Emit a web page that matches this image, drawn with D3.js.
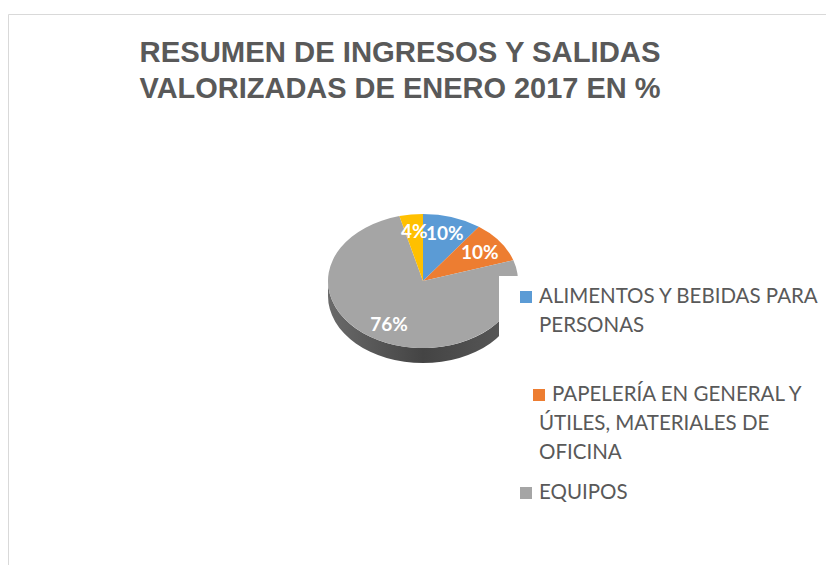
<!DOCTYPE html>
<html>
<head>
<meta charset="utf-8">
<script src="https://cdn.jsdelivr.net/npm/d3@7"></script>
<style>
  body { margin: 0; background: #fff; }
</style>
</head>
<body>
<div id="chart"></div>
<script>
// data
const categories = ["ALIMENTOS Y BEBIDAS PARA PERSONAS", "PAPELERÍA EN GENERAL Y ÚTILES, MATERIALES DE OFICINA", "EQUIPOS", "OTROS"];
const values = [10, 10, 76, 4];
const pctLabels = ["10%", "10%", "76%", "4%"];
const legendLines = [["ALIMENTOS Y BEBIDAS PARA", "PERSONAS"], ["PAPELERÍA EN GENERAL Y", "ÚTILES, MATERIALES DE", "OFICINA"], ["EQUIPOS"]];
const titleLines = ["RESUMEN DE INGRESOS Y SALIDAS", "VALORIZADAS DE ENERO 2017 EN %"];

const width = 826, height = 565;

const svg = d3.select("#chart")
  .append("svg")
    .attr("width", width)
    .attr("height", height);

const color = d3.scaleOrdinal()
  .domain(categories)
  .range(["#5b9bd5", "#ed7d31", "#a5a5a5", "#ffc000"]);

// chart area border
svg.append("path")
  .attr("d", `M8.5,${height} V14.5 H${width}`)
  .style("fill", "none")
  .style("stroke", "#d9d9d9");

/* Title */
svg.selectAll("text.title")
  .data(titleLines)
  .join("text")
    .attr("class", "title")
    .attr("x", 400)
    .attr("y", (d, i) => 62 + i * 36)
    .attr("text-anchor", "middle")
    .attr("textLength", 521)
    .attr("lengthAdjust", "spacingAndGlyphs")
    .style("font-family", "'Liberation Sans', Arial, sans-serif")
    .style("font-weight", "bold")
    .style("font-size", "30px")
    .style("fill", "#595959")
    .text(d => d);

/* Tilted pie */
const cx = 423, cy = 281, rx = 95, ry = 67, depth = 15;

const pie = d3.pie().sort(null).value(d => d.value);
const arcs = pie(categories.map((c, i) => ({name: c, value: values[i], label: pctLabels[i]})));

const arc = d3.arc().innerRadius(0).outerRadius(rx);
const labelArc = d3.arc().innerRadius(rx * 0.74).outerRadius(rx * 0.74);

const pt = (a, dy = 0) => [cx + rx * Math.sin(a), cy - ry * Math.cos(a) + dy];

const defs = svg.append("defs");
const grad = defs.append("linearGradient")
  .attr("id", "side")
  .attr("x1", "0").attr("x2", "1").attr("y1", "0").attr("y2", "0");
grad.append("stop").attr("offset", "0").attr("stop-color", "#6a6a6a");
grad.append("stop").attr("offset", "0.5").attr("stop-color", "#444");
grad.append("stop").attr("offset", "1").attr("stop-color", "#5a5a5a");

// side wall, only the front half shows
const sidePath = d => {
  const s = Math.max(d.startAngle, Math.PI / 2);
  const e = Math.min(d.endAngle, Math.PI * 1.5);
  if (s >= e) return null;
  const p0 = pt(s), p1 = pt(e), p2 = pt(e, depth), p3 = pt(s, depth);
  return `M${p0}A${rx},${ry} 0 0 1 ${p1}L${p2}A${rx},${ry} 0 0 0 ${p3}Z`;
};

svg.append("g")
  .selectAll("path")
  .data(arcs.filter(d => sidePath(d)))
  .join("path")
    .attr("d", sidePath)
    .style("fill", "url(#side)");

svg.append("g")
  .attr("transform", `translate(${cx},${cy}) scale(1,${ry / rx})`)
  .selectAll("path")
  .data(arcs)
  .join("path")
    .attr("d", arc)
    .style("fill", d => color(d.data.name));

svg.selectAll("text.pct")
  .data(arcs)
  .join("text")
    .attr("class", "pct")
    .attr("x", d => cx + labelArc.centroid(d)[0])
    .attr("y", d => cy + labelArc.centroid(d)[1] * ry / rx)
    .attr("dy", "0.35em")
    .attr("text-anchor", "middle")
    .style("font-family", "Lato, sans-serif")
    .style("font-weight", "bold")
    .style("font-size", "19px")
    .style("fill", "#fff")
    .text(d => d.data.label);

/* Legend, its white box sits over the pie edge */
svg.append("rect")
  .attr("x", 499)
  .attr("y", 276)
  .attr("width", 320)
  .attr("height", 240)
  .style("fill", "#fff");

const legendItems = [
  {x: 520, y: 291, tx: 539, lines: legendLines[0]},
  {x: 533, y: 389, tx: 552, lines: legendLines[1]},
  {x: 520, y: 487, tx: 539, lines: legendLines[2]}
];

const lg = svg.selectAll("g.legend")
  .data(legendItems)
  .join("g")
    .attr("class", "legend");

lg.append("rect")
  .attr("x", d => d.x)
  .attr("y", d => d.y)
  .attr("width", 12)
  .attr("height", 12)
  .style("fill", (d, i) => color(categories[i]));

lg.selectAll("text")
  .data(d => d.lines.map((l, j) => ({l, j, d})))
  .join("text")
    .attr("x", t => t.j === 0 ? t.d.tx : 539)
    .attr("y", t => t.d.y + 12 + t.j * 29)
    .style("font-family", "Lato, sans-serif")
    .style("font-size", "20.5px")
    .style("fill", "#595959")
    .text(t => t.l);
</script>
</body>
</html>
